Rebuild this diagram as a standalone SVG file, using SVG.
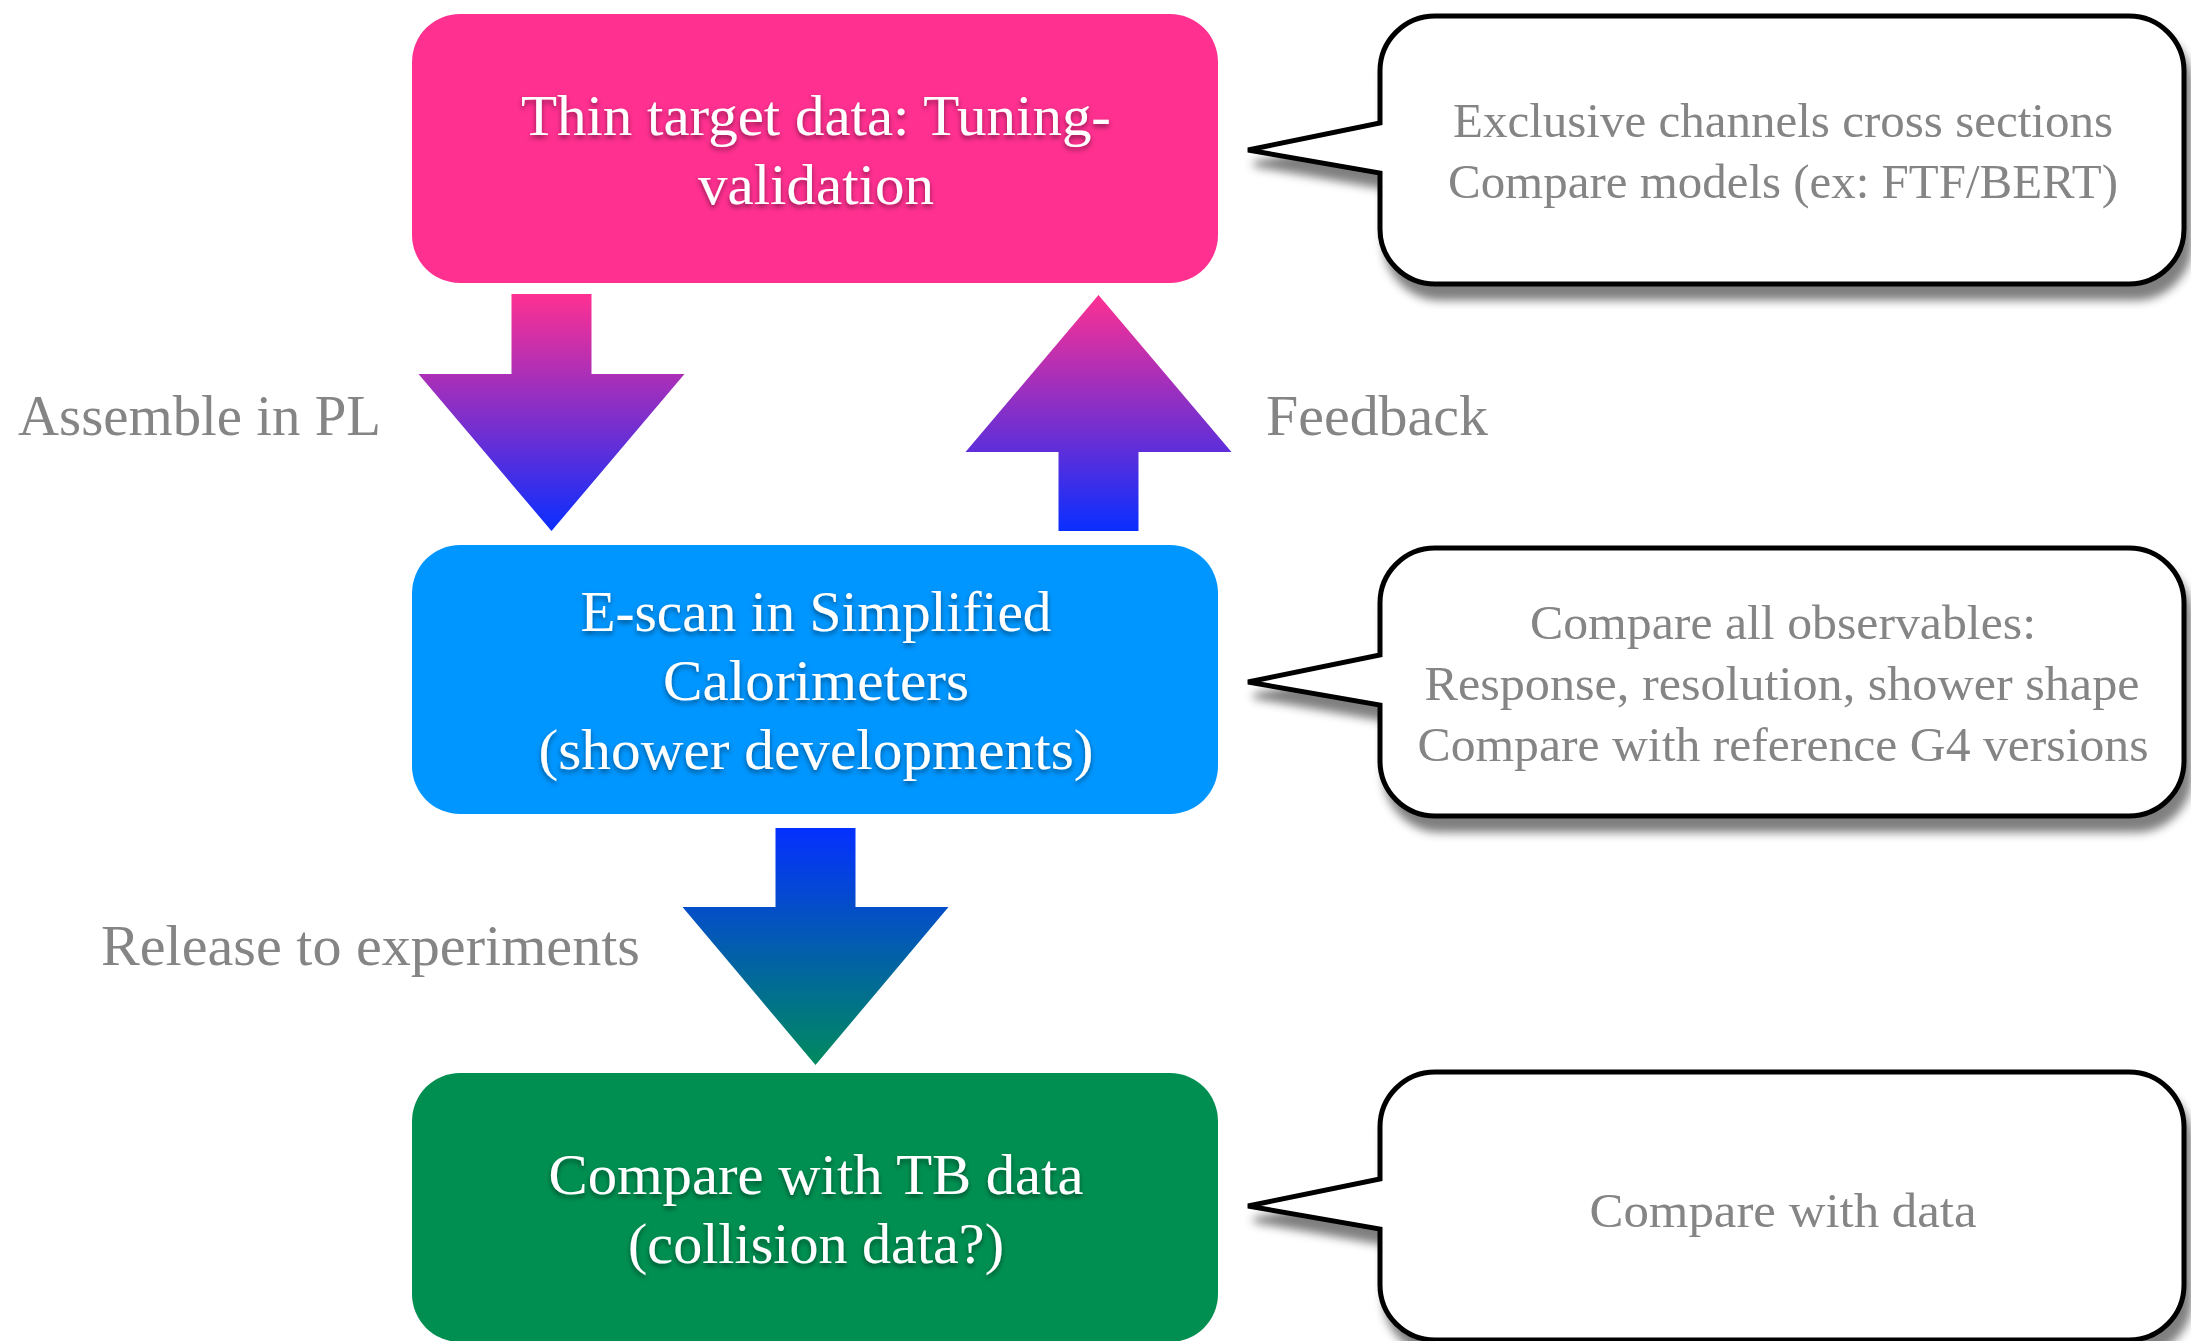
<svg xmlns="http://www.w3.org/2000/svg" xmlns:xlink="http://www.w3.org/1999/xlink" width="2191" height="1341" viewBox="0 0 2191 1341">
  <style>
    .box-text { font-family: "Liberation Serif", "DejaVu Serif", serif; font-size: 57px; fill: #ffffff; text-anchor: middle; filter: url(#textShadow); }
    .label { font-family: "Liberation Serif", "DejaVu Serif", serif; font-size: 57px; fill: #858585; }
    .note { font-family: "Liberation Serif", "DejaVu Serif", serif; font-size: 48px; fill: #858585; text-anchor: middle; }
    .bubble { fill: #ffffff; stroke: #000000; stroke-width: 5; stroke-linejoin: miter; filter: url(#bubbleShadow); }
  </style>
  <defs>
    <filter id="textShadow" x="-10%" y="-30%" width="120%" height="170%">
      <feGaussianBlur in="SourceAlpha" stdDeviation="2.5"/>
      <feOffset dx="0" dy="3" result="off"/>
      <feFlood flood-color="#000000" flood-opacity="0.45"/>
      <feComposite in2="off" operator="in" result="shadow"/>
      <feMerge>
        <feMergeNode in="shadow"/>
        <feMergeNode in="SourceGraphic"/>
      </feMerge>
    </filter>
    <filter id="bubbleShadow" x="-5%" y="-10%" width="115%" height="130%">
      <feGaussianBlur in="SourceAlpha" stdDeviation="5"/>
      <feOffset dx="6" dy="14" result="off"/>
      <feFlood flood-color="#000000" flood-opacity="0.5"/>
      <feComposite in2="off" operator="in" result="shadow"/>
      <feMerge>
        <feMergeNode in="shadow"/>
        <feMergeNode in="SourceGraphic"/>
      </feMerge>
    </filter>
    <linearGradient id="gPinkBlue" gradientUnits="userSpaceOnUse" x1="0" y1="294" x2="0" y2="531">
      <stop offset="0" stop-color="#ff3092"/>
      <stop offset="1" stop-color="#0a2eff"/>
    </linearGradient>
    <linearGradient id="gBlueGreen" gradientUnits="userSpaceOnUse" x1="0" y1="828" x2="0" y2="1065">
      <stop offset="0" stop-color="#0530ff"/>
      <stop offset="1" stop-color="#008a5e"/>
    </linearGradient>
    <!-- callout outline, top edge at y=0, tail pointing left -->
    <path id="bubblePath" d="M1380,107 L1380,55 A55,55 0 0 1 1435,0 L2129,0 A55,55 0 0 1 2184,55 L2184,213 A55,55 0 0 1 2129,268 L1435,268 A55,55 0 0 1 1380,213 L1380,157 L1248,134 Z"/>
  </defs>

  <rect width="2191" height="1341" fill="#ffffff"/>

  <!-- connectors: block arrows with their labels -->
  <g id="connectors">
    <polygon fill="url(#gPinkBlue)" points="511.5,294 591.5,294 591.5,374 684.5,374 551.5,531 418.5,374 511.5,374"/>
    <polygon fill="url(#gPinkBlue)" points="1098.5,295 1231.5,452 1138.5,452 1138.5,531 1058.5,531 1058.5,452 965.5,452"/>
    <polygon fill="url(#gBlueGreen)" points="775.5,828 855.5,828 855.5,907 948.5,907 815.5,1065 682.5,907 775.5,907"/>
    <text class="label" x="18" y="435" textLength="363" lengthAdjust="spacingAndGlyphs">Assemble in PL</text>
    <text class="label" x="1266" y="435" textLength="222" lengthAdjust="spacingAndGlyphs">Feedback</text>
    <text class="label" x="101" y="965" textLength="539" lengthAdjust="spacingAndGlyphs">Release to experiments</text>
  </g>

  <!-- process boxes -->
  <g id="thin-target">
    <rect x="412" y="14" width="806" height="269" rx="48" ry="48" fill="#ff3090"/>
    <text class="box-text" x="816" y="135" textLength="590" lengthAdjust="spacingAndGlyphs">Thin target data: Tuning-</text>
    <text class="box-text" x="816" y="204" textLength="236" lengthAdjust="spacingAndGlyphs">validation</text>
  </g>

  <g id="e-scan">
    <rect x="412" y="545" width="806" height="269" rx="48" ry="48" fill="#0096ff"/>
    <text class="box-text" x="816" y="631" textLength="471" lengthAdjust="spacingAndGlyphs">E-scan in Simplified</text>
    <text class="box-text" x="816" y="700" textLength="306" lengthAdjust="spacingAndGlyphs">Calorimeters</text>
    <text class="box-text" x="816" y="769" textLength="555" lengthAdjust="spacingAndGlyphs">(shower developments)</text>
  </g>

  <g id="tb-data">
    <rect x="412" y="1073" width="806" height="269" rx="48" ry="48" fill="#008f51"/>
    <text class="box-text" x="816" y="1194" textLength="535" lengthAdjust="spacingAndGlyphs">Compare with TB data</text>
    <text class="box-text" x="816" y="1263" textLength="376" lengthAdjust="spacingAndGlyphs">(collision data?)</text>
  </g>

  <!-- callouts -->
  <g id="note-thin-target">
    <use xlink:href="#bubblePath" href="#bubblePath" class="bubble" transform="translate(0,16)"/>
    <text class="note" x="1783" y="137" textLength="660" lengthAdjust="spacingAndGlyphs">Exclusive channels cross sections</text>
    <text class="note" x="1783" y="198" textLength="670" lengthAdjust="spacingAndGlyphs">Compare models (ex: FTF/BERT)</text>
  </g>

  <g id="note-e-scan">
    <use xlink:href="#bubblePath" href="#bubblePath" class="bubble" transform="translate(0,548)"/>
    <text class="note" x="1783" y="639" textLength="506" lengthAdjust="spacingAndGlyphs">Compare all observables:</text>
    <text class="note" x="1782" y="700" textLength="715" lengthAdjust="spacingAndGlyphs">Response, resolution, shower shape</text>
    <text class="note" x="1783" y="761" textLength="731" lengthAdjust="spacingAndGlyphs">Compare with reference G4 versions</text>
  </g>

  <g id="note-tb-data">
    <use xlink:href="#bubblePath" href="#bubblePath" class="bubble" transform="translate(0,1072)"/>
    <text class="note" x="1783" y="1227" textLength="387" lengthAdjust="spacingAndGlyphs">Compare with data</text>
  </g>
</svg>
